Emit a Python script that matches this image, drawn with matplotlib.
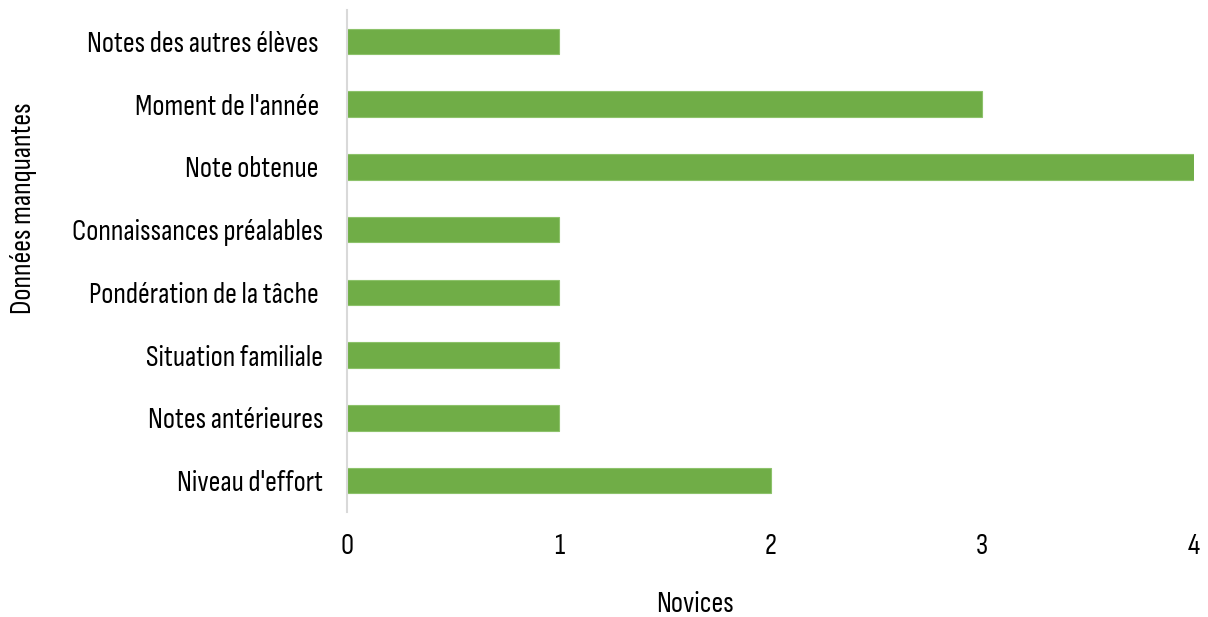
import matplotlib
matplotlib.use("Agg")
import matplotlib.pyplot as plt

# Data (bottom to top, as drawn by barh)
categories = [
    "Niveau d'effort",
    "Notes antérieures",
    "Situation familiale",
    "Pondération de la tâche ",
    "Connaissances préalables",
    "Note obtenue ",
    "Moment de l'année ",
    "Notes des autres élèves ",
]
novices = [2, 1, 1, 1, 1, 4, 3, 1]
x_ticks = [0, 1, 2, 3, 4]

BAR_COLOR = "#70AD47"
AXIS_COLOR = "#D9D9D9"
FS = 21

# narrow face, close to the condensed font of the original
plt.rcParams["font.family"] = ["Sofia Sans Condensed", "Roboto Condensed", "DejaVu Sans"]
plt.rcParams["font.weight"] = 500

fig = plt.figure(figsize=(12.08, 6.17), dpi=100)
ax = fig.add_axes([0.2873, 0.1702, 0.7011, 0.8136])

ypos = list(range(len(categories)))
ax.barh(ypos, novices, height=0.41, color=BAR_COLOR, edgecolor="#8DC26B", linewidth=0.8, zorder=2)

ax.set_xlim(0, 4)
ax.set_ylim(-0.5, len(categories) - 0.5)
ax.set_yticks(ypos)
ax.set_yticklabels(categories, fontsize=FS)
ax.set_xticks(x_ticks)
ax.set_xticklabels([str(t) for t in x_ticks], fontsize=FS)
ax.tick_params(length=0)
ax.tick_params(axis="y", pad=17)
ax.tick_params(axis="x", pad=15)

for side in ["top", "right", "bottom"]:
    ax.spines[side].set_visible(False)
ax.spines["left"].set_color(AXIS_COLOR)
ax.spines["left"].set_linewidth(1.5)

ax.set_xlabel("Novices", fontsize=FS)
ax.xaxis.set_label_coords(0.411, -0.158)
ax.set_ylabel("Données manquantes", fontsize=FS)
ax.yaxis.set_label_coords(-0.366, 0.606)

fig.savefig("out.png", dpi=100)
